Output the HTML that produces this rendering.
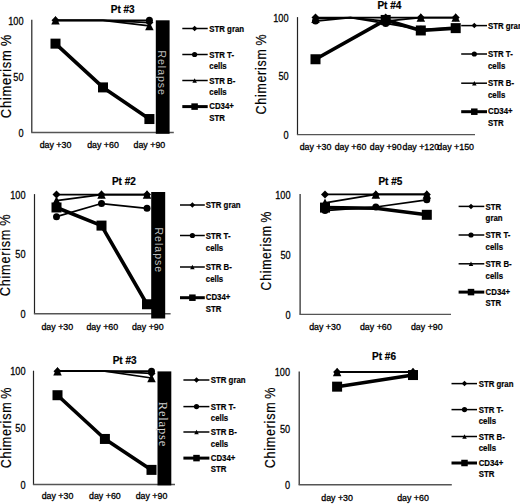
<!DOCTYPE html>
<html><head><meta charset="utf-8"><style>
html,body{margin:0;padding:0;background:#fff;overflow:hidden;width:520px;height:504px;}
svg{display:block;}
text{font-family:"Liberation Sans", sans-serif;}
.tk{stroke:#000;stroke-width:0.25px;}
.xl{stroke:#000;stroke-width:0.3px;}
.lg{stroke:#000;stroke-width:0.2px;}
.yl{stroke:#000;stroke-width:0.2px;}
.ti{stroke:#000;stroke-width:0.2px;}
</style></head><body>
<svg width="520" height="504" viewBox="0 0 520 504">
<rect width="520" height="504" fill="#fff"/>
<line x1="31.8" y1="19.8" x2="31.8" y2="132.5" stroke="#222" stroke-width="1.2"/>
<line x1="31.2" y1="132.5" x2="173.8" y2="132.5" stroke="#555" stroke-width="1.4"/>
<g transform="translate(23.50,24.50) scale(0.92,1)"><text class="tk" x="0.00" y="0.00" font-size="10" text-anchor="end" >100</text></g>
<g transform="translate(23.50,80.60) scale(0.92,1)"><text class="tk" x="0.00" y="0.00" font-size="10" text-anchor="end" >50</text></g>
<g transform="translate(23.50,136.70) scale(0.92,1)"><text class="tk" x="0.00" y="0.00" font-size="10" text-anchor="end" >0</text></g>
<text class="yl" x="0" y="0" font-size="15" text-anchor="middle" transform="translate(10.8,76.11) rotate(-90) scale(0.8637,1)" word-spacing="-1.5" letter-spacing="0.9">Chimerism %</text>
<text class="ti" x="122.70" y="13.20" font-size="10" text-anchor="middle" font-weight="bold" >Pt #3</text>
<g transform="translate(55.50,148.00) scale(1.03,1)"><text class="xl" x="0.00" y="0.00" font-size="8.6" text-anchor="middle" >day +30</text></g>
<g transform="translate(103.00,148.00) scale(1.03,1)"><text class="xl" x="0.00" y="0.00" font-size="8.6" text-anchor="middle" >day +60</text></g>
<g transform="translate(149.40,148.00) scale(1.03,1)"><text class="xl" x="0.00" y="0.00" font-size="8.6" text-anchor="middle" >day +90</text></g>
<rect x="155.8" y="20.3" width="13.799999999999983" height="113.50000000000001" fill="#000"/>
<text x="0" y="0" font-size="10.5"  text-anchor="middle" fill="#bcbcbc" transform="translate(158.20,73.20) rotate(90)" letter-spacing="1.0">Relapse</text>
<path d="M55.50 20.30 L103.00 20.30 L149.40 22.54" fill="none" stroke="#000" stroke-width="1.7" stroke-linejoin="round"/>
<path d="M55.50 16.30L59.50 20.30L55.50 24.30L51.50 20.30Z" fill="#000"/>
<path d="M149.40 18.54L153.40 22.54L149.40 26.54L145.40 22.54Z" fill="#000"/>
<path d="M55.50 20.30 L103.00 20.30 L149.40 20.30" fill="none" stroke="#000" stroke-width="1.7" stroke-linejoin="round"/>
<circle cx="149.40" cy="20.30" r="3.50" fill="#000"/>
<path d="M55.50 20.30 L103.00 20.30 L149.40 25.91" fill="none" stroke="#000" stroke-width="1.7" stroke-linejoin="round"/>
<path d="M55.50 16.05L59.75 24.55L51.25 24.55Z" fill="#000"/>
<path d="M149.40 21.66L153.65 30.16L145.15 30.16Z" fill="#000"/>
<path d="M55.50 43.64 L103.00 87.40 L149.40 119.04" fill="none" stroke="#000" stroke-width="3.6" stroke-linejoin="round"/>
<rect x="50.50" y="38.64" width="10.00" height="10.00" fill="#000"/>
<rect x="98.00" y="82.40" width="10.00" height="10.00" fill="#000"/>
<rect x="144.40" y="114.04" width="10.00" height="10.00" fill="#000"/>
<line x1="182.3" y1="28.50" x2="207.7" y2="28.50" stroke="#000" stroke-width="1.5"/>
<path d="M194.60 25.75L197.35 28.50L194.60 31.25L191.85 28.50Z" fill="#000"/>
<g transform="translate(209.30,31.70) scale(0.87,1)"><text class="lg" x="0.00" y="0.00" font-size="9" font-weight="bold" >STR gran</text></g>
<line x1="182.3" y1="54.50" x2="207.7" y2="54.50" stroke="#000" stroke-width="1.5"/>
<circle cx="194.60" cy="54.50" r="2.60" fill="#000"/>
<g transform="translate(209.30,57.70) scale(0.87,1)"><text class="lg" x="0.00" y="0.00" font-size="9" font-weight="bold" >STR T-</text></g>
<g transform="translate(209.30,69.30) scale(0.87,1)"><text class="lg" x="0.00" y="0.00" font-size="9" font-weight="bold" >cells</text></g>
<line x1="182.3" y1="80.50" x2="207.7" y2="80.50" stroke="#000" stroke-width="1.5"/>
<path d="M194.60 78.25L196.85 82.75L192.35 82.75Z" fill="#000"/>
<g transform="translate(209.30,83.70) scale(0.87,1)"><text class="lg" x="0.00" y="0.00" font-size="9" font-weight="bold" >STR B-</text></g>
<g transform="translate(209.30,95.30) scale(0.87,1)"><text class="lg" x="0.00" y="0.00" font-size="9" font-weight="bold" >cells</text></g>
<line x1="182.3" y1="106.60" x2="207.7" y2="106.60" stroke="#000" stroke-width="3.0"/>
<rect x="191.35" y="103.35" width="6.50" height="6.50" fill="#000"/>
<g transform="translate(209.30,109.30) scale(0.87,1)"><text class="lg" x="0.00" y="0.00" font-size="9" font-weight="bold" >CD34+</text></g>
<g transform="translate(209.30,120.90) scale(0.87,1)"><text class="lg" x="0.00" y="0.00" font-size="9" font-weight="bold" >STR</text></g>
<line x1="297.5" y1="17.1" x2="297.5" y2="134.6" stroke="#222" stroke-width="1.2"/>
<line x1="296.9" y1="134.6" x2="475" y2="134.6" stroke="#555" stroke-width="1.4"/>
<g transform="translate(288.60,21.80) scale(0.92,1)"><text class="tk" x="0.00" y="0.00" font-size="10" text-anchor="end" >100</text></g>
<g transform="translate(288.60,80.30) scale(0.92,1)"><text class="tk" x="0.00" y="0.00" font-size="10" text-anchor="end" >50</text></g>
<g transform="translate(288.60,138.80) scale(0.92,1)"><text class="tk" x="0.00" y="0.00" font-size="10" text-anchor="end" >0</text></g>
<text class="yl" x="0" y="0" font-size="15" text-anchor="middle" transform="translate(265.9,74.13) rotate(-90) scale(0.8266,1)" word-spacing="-1.5" letter-spacing="0.9">Chimerism %</text>
<text class="ti" x="389.40" y="9.30" font-size="10" text-anchor="middle" font-weight="bold" >Pt #4</text>
<g transform="translate(315.50,149.70) scale(1.03,1)"><text class="xl" x="0.00" y="0.00" font-size="8.6" text-anchor="middle" >day +30</text></g>
<g transform="translate(350.50,149.70) scale(1.03,1)"><text class="xl" x="0.00" y="0.00" font-size="8.6" text-anchor="middle" >day +60</text></g>
<g transform="translate(385.70,149.70) scale(1.03,1)"><text class="xl" x="0.00" y="0.00" font-size="8.6" text-anchor="middle" >day +90</text></g>
<g transform="translate(420.80,149.70) scale(1.03,1)"><text class="xl" x="0.00" y="0.00" font-size="8.6" text-anchor="middle" >day +120</text></g>
<g transform="translate(455.70,149.70) scale(1.03,1)"><text class="xl" x="0.00" y="0.00" font-size="8.6" text-anchor="middle" >day +150</text></g>
<path d="M315.50 17.60 L350.50 17.60 L385.70 17.60 L420.80 17.60 L455.70 17.60" fill="none" stroke="#000" stroke-width="1.7" stroke-linejoin="round"/>
<path d="M315.50 13.60L319.50 17.60L315.50 21.60L311.50 17.60Z" fill="#000"/>
<path d="M385.70 13.60L389.70 17.60L385.70 21.60L381.70 17.60Z" fill="#000"/>
<path d="M420.80 13.60L424.80 17.60L420.80 21.60L416.80 17.60Z" fill="#000"/>
<path d="M455.70 13.60L459.70 17.60L455.70 21.60L451.70 17.60Z" fill="#000"/>
<path d="M315.50 21.11 L350.50 17.60 L385.70 23.45 L420.80 29.30 L455.70 28.13" fill="none" stroke="#000" stroke-width="1.7" stroke-linejoin="round"/>
<circle cx="315.50" cy="21.11" r="3.50" fill="#000"/>
<circle cx="385.70" cy="23.45" r="3.50" fill="#000"/>
<circle cx="420.80" cy="29.30" r="3.50" fill="#000"/>
<circle cx="455.70" cy="28.13" r="3.50" fill="#000"/>
<path d="M315.50 18.77 L350.50 17.60 L385.70 21.11 L420.80 17.60 L455.70 17.60" fill="none" stroke="#000" stroke-width="1.7" stroke-linejoin="round"/>
<path d="M315.50 14.52L319.75 23.02L311.25 23.02Z" fill="#000"/>
<path d="M385.70 16.86L389.95 25.36L381.45 25.36Z" fill="#000"/>
<path d="M420.80 13.35L425.05 21.85L416.55 21.85Z" fill="#000"/>
<path d="M455.70 13.35L459.95 21.85L451.45 21.85Z" fill="#000"/>
<path d="M315.50 59.25 L385.70 19.94 L420.80 30.47 L455.70 28.13" fill="none" stroke="#000" stroke-width="3.6" stroke-linejoin="round"/>
<rect x="310.50" y="54.25" width="10.00" height="10.00" fill="#000"/>
<rect x="380.70" y="14.94" width="10.00" height="10.00" fill="#000"/>
<rect x="415.80" y="25.47" width="10.00" height="10.00" fill="#000"/>
<rect x="450.70" y="23.13" width="10.00" height="10.00" fill="#000"/>
<line x1="461.2" y1="25.60" x2="487" y2="25.60" stroke="#000" stroke-width="1.5"/>
<path d="M474.30 22.85L477.05 25.60L474.30 28.35L471.55 25.60Z" fill="#000"/>
<g transform="translate(488.00,28.80) scale(0.87,1)"><text class="lg" x="0.00" y="0.00" font-size="9" font-weight="bold" >STR gran</text></g>
<line x1="461.2" y1="54.00" x2="487" y2="54.00" stroke="#000" stroke-width="1.5"/>
<circle cx="474.30" cy="54.00" r="2.60" fill="#000"/>
<g transform="translate(488.00,57.20) scale(0.87,1)"><text class="lg" x="0.00" y="0.00" font-size="9" font-weight="bold" >STR T-</text></g>
<g transform="translate(488.00,68.80) scale(0.87,1)"><text class="lg" x="0.00" y="0.00" font-size="9" font-weight="bold" >cells</text></g>
<line x1="461.2" y1="83.20" x2="487" y2="83.20" stroke="#000" stroke-width="1.5"/>
<path d="M474.30 80.95L476.55 85.45L472.05 85.45Z" fill="#000"/>
<g transform="translate(488.00,86.40) scale(0.87,1)"><text class="lg" x="0.00" y="0.00" font-size="9" font-weight="bold" >STR B-</text></g>
<g transform="translate(488.00,98.00) scale(0.87,1)"><text class="lg" x="0.00" y="0.00" font-size="9" font-weight="bold" >cells</text></g>
<line x1="461.2" y1="111.70" x2="487" y2="111.70" stroke="#000" stroke-width="3.0"/>
<rect x="471.05" y="108.45" width="6.50" height="6.50" fill="#000"/>
<g transform="translate(488.00,114.40) scale(0.87,1)"><text class="lg" x="0.00" y="0.00" font-size="9" font-weight="bold" >CD34+</text></g>
<g transform="translate(488.00,126.00) scale(0.87,1)"><text class="lg" x="0.00" y="0.00" font-size="9" font-weight="bold" >STR</text></g>
<line x1="34.5" y1="194.1" x2="34.5" y2="313.8" stroke="#222" stroke-width="1.2"/>
<line x1="33.9" y1="313.8" x2="170.6" y2="313.8" stroke="#555" stroke-width="1.4"/>
<g transform="translate(25.50,198.80) scale(0.92,1)"><text class="tk" x="0.00" y="0.00" font-size="10" text-anchor="end" >100</text></g>
<g transform="translate(25.50,258.40) scale(0.92,1)"><text class="tk" x="0.00" y="0.00" font-size="10" text-anchor="end" >50</text></g>
<g transform="translate(25.50,318.00) scale(0.92,1)"><text class="tk" x="0.00" y="0.00" font-size="10" text-anchor="end" >0</text></g>
<text class="yl" x="0" y="0" font-size="15" text-anchor="middle" transform="translate(10.2,255.02) rotate(-90) scale(0.8456,1)" word-spacing="-1.5" letter-spacing="0.9">Chimerism %</text>
<text class="ti" x="123.90" y="185.40" font-size="10" text-anchor="middle" font-weight="bold" >Pt #2</text>
<g transform="translate(57.30,329.60) scale(1.03,1)"><text class="xl" x="0.00" y="0.00" font-size="8.6" text-anchor="middle" >day +30</text></g>
<g transform="translate(102.30,329.60) scale(1.03,1)"><text class="xl" x="0.00" y="0.00" font-size="8.6" text-anchor="middle" >day +60</text></g>
<g transform="translate(147.80,329.60) scale(1.03,1)"><text class="xl" x="0.00" y="0.00" font-size="8.6" text-anchor="middle" >day +90</text></g>
<rect x="151.2" y="192" width="14.0" height="126.5" fill="#000"/>
<text x="0" y="0" font-size="10.5"  text-anchor="middle" fill="#bcbcbc" transform="translate(154.50,250.30) rotate(90)" letter-spacing="1.0">Relapse</text>
<path d="M56.50 194.60 L101.50 194.60 L147.00 194.60" fill="none" stroke="#000" stroke-width="1.7" stroke-linejoin="round"/>
<path d="M56.50 190.60L60.50 194.60L56.50 198.60L52.50 194.60Z" fill="#000"/>
<path d="M101.50 190.60L105.50 194.60L101.50 198.60L97.50 194.60Z" fill="#000"/>
<path d="M147.00 190.60L151.00 194.60L147.00 198.60L143.00 194.60Z" fill="#000"/>
<path d="M56.50 216.65 L101.50 203.54 L147.00 208.31" fill="none" stroke="#000" stroke-width="1.7" stroke-linejoin="round"/>
<circle cx="56.50" cy="216.65" r="3.50" fill="#000"/>
<circle cx="101.50" cy="203.54" r="3.50" fill="#000"/>
<circle cx="147.00" cy="208.31" r="3.50" fill="#000"/>
<path d="M56.50 200.56 L101.50 194.60 L147.00 194.60" fill="none" stroke="#000" stroke-width="1.7" stroke-linejoin="round"/>
<path d="M56.50 196.31L60.75 204.81L52.25 204.81Z" fill="#000"/>
<path d="M101.50 190.35L105.75 198.85L97.25 198.85Z" fill="#000"/>
<path d="M147.00 190.35L151.25 198.85L142.75 198.85Z" fill="#000"/>
<path d="M56.50 207.47 L101.50 225.59 L147.00 304.26" fill="none" stroke="#000" stroke-width="3.6" stroke-linejoin="round"/>
<rect x="51.50" y="202.47" width="10.00" height="10.00" fill="#000"/>
<rect x="96.50" y="220.59" width="10.00" height="10.00" fill="#000"/>
<rect x="142.00" y="299.26" width="10.00" height="10.00" fill="#000"/>
<line x1="180" y1="205.00" x2="204.8" y2="205.00" stroke="#000" stroke-width="1.5"/>
<path d="M192.40 202.25L195.15 205.00L192.40 207.75L189.65 205.00Z" fill="#000"/>
<g transform="translate(205.80,208.20) scale(0.87,1)"><text class="lg" x="0.00" y="0.00" font-size="9" font-weight="bold" >STR gran</text></g>
<line x1="180" y1="235.50" x2="204.8" y2="235.50" stroke="#000" stroke-width="1.5"/>
<circle cx="192.40" cy="235.50" r="2.60" fill="#000"/>
<g transform="translate(205.80,238.70) scale(0.87,1)"><text class="lg" x="0.00" y="0.00" font-size="9" font-weight="bold" >STR T-</text></g>
<g transform="translate(205.80,250.70) scale(0.87,1)"><text class="lg" x="0.00" y="0.00" font-size="9" font-weight="bold" >cells</text></g>
<line x1="180" y1="267.00" x2="204.8" y2="267.00" stroke="#000" stroke-width="1.5"/>
<path d="M192.40 264.75L194.65 269.25L190.15 269.25Z" fill="#000"/>
<g transform="translate(205.80,270.20) scale(0.87,1)"><text class="lg" x="0.00" y="0.00" font-size="9" font-weight="bold" >STR B-</text></g>
<g transform="translate(205.80,282.20) scale(0.87,1)"><text class="lg" x="0.00" y="0.00" font-size="9" font-weight="bold" >cells</text></g>
<line x1="180" y1="297.70" x2="204.8" y2="297.70" stroke="#000" stroke-width="3.0"/>
<rect x="189.15" y="294.45" width="6.50" height="6.50" fill="#000"/>
<g transform="translate(205.80,300.40) scale(0.87,1)"><text class="lg" x="0.00" y="0.00" font-size="9" font-weight="bold" >CD34+</text></g>
<g transform="translate(205.80,312.40) scale(0.87,1)"><text class="lg" x="0.00" y="0.00" font-size="9" font-weight="bold" >STR</text></g>
<line x1="300.1" y1="193.9" x2="300.1" y2="314.4" stroke="#222" stroke-width="1.2"/>
<line x1="299.5" y1="314.4" x2="451" y2="314.4" stroke="#555" stroke-width="1.4"/>
<g transform="translate(290.60,198.60) scale(0.92,1)"><text class="tk" x="0.00" y="0.00" font-size="10" text-anchor="end" >100</text></g>
<g transform="translate(290.60,258.60) scale(0.92,1)"><text class="tk" x="0.00" y="0.00" font-size="10" text-anchor="end" >50</text></g>
<g transform="translate(290.60,318.60) scale(0.92,1)"><text class="tk" x="0.00" y="0.00" font-size="10" text-anchor="end" >0</text></g>
<text class="yl" x="0" y="0" font-size="15" text-anchor="middle" transform="translate(270.5,250.63) rotate(-90) scale(0.8157,1)" word-spacing="-1.5" letter-spacing="0.9">Chimerism %</text>
<text class="ti" x="390.40" y="185.40" font-size="10" text-anchor="middle" font-weight="bold" >Pt #5</text>
<g transform="translate(325.00,329.60) scale(1.03,1)"><text class="xl" x="0.00" y="0.00" font-size="8.6" text-anchor="middle" >day +30</text></g>
<g transform="translate(375.80,329.60) scale(1.03,1)"><text class="xl" x="0.00" y="0.00" font-size="8.6" text-anchor="middle" >day +60</text></g>
<g transform="translate(426.80,329.60) scale(1.03,1)"><text class="xl" x="0.00" y="0.00" font-size="8.6" text-anchor="middle" >day +90</text></g>
<path d="M325.00 194.40 L375.80 194.40 L426.80 194.40" fill="none" stroke="#000" stroke-width="1.7" stroke-linejoin="round"/>
<path d="M325.00 190.40L329.00 194.40L325.00 198.40L321.00 194.40Z" fill="#000"/>
<path d="M375.80 190.40L379.80 194.40L375.80 198.40L371.80 194.40Z" fill="#000"/>
<path d="M426.80 190.40L430.80 194.40L426.80 198.40L422.80 194.40Z" fill="#000"/>
<path d="M325.00 210.60 L375.80 207.00 L426.80 199.80" fill="none" stroke="#000" stroke-width="1.7" stroke-linejoin="round"/>
<circle cx="325.00" cy="210.60" r="3.50" fill="#000"/>
<circle cx="375.80" cy="207.00" r="3.50" fill="#000"/>
<circle cx="426.80" cy="199.80" r="3.50" fill="#000"/>
<path d="M325.00 202.80 L375.80 194.40 L426.80 194.40" fill="none" stroke="#000" stroke-width="1.7" stroke-linejoin="round"/>
<path d="M325.00 198.55L329.25 207.05L320.75 207.05Z" fill="#000"/>
<path d="M375.80 190.15L380.05 198.65L371.55 198.65Z" fill="#000"/>
<path d="M426.80 190.15L431.05 198.65L422.55 198.65Z" fill="#000"/>
<path d="M325.00 207.60 L375.80 208.20 L426.80 214.80" fill="none" stroke="#000" stroke-width="3.6" stroke-linejoin="round"/>
<rect x="320.00" y="202.60" width="10.00" height="10.00" fill="#000"/>
<rect x="421.80" y="209.80" width="10.00" height="10.00" fill="#000"/>
<line x1="458.6" y1="206.40" x2="484.3" y2="206.40" stroke="#000" stroke-width="1.5"/>
<path d="M471.00 203.65L473.75 206.40L471.00 209.15L468.25 206.40Z" fill="#000"/>
<g transform="translate(485.60,209.60) scale(0.87,1)"><text class="lg" x="0.00" y="0.00" font-size="9" font-weight="bold" >STR</text></g>
<g transform="translate(485.60,221.20) scale(0.87,1)"><text class="lg" x="0.00" y="0.00" font-size="9" font-weight="bold" >gran</text></g>
<line x1="458.6" y1="235.00" x2="484.3" y2="235.00" stroke="#000" stroke-width="1.5"/>
<circle cx="471.00" cy="235.00" r="2.60" fill="#000"/>
<g transform="translate(485.60,238.20) scale(0.87,1)"><text class="lg" x="0.00" y="0.00" font-size="9" font-weight="bold" >STR T-</text></g>
<g transform="translate(485.60,249.80) scale(0.87,1)"><text class="lg" x="0.00" y="0.00" font-size="9" font-weight="bold" >cells</text></g>
<line x1="458.6" y1="263.80" x2="484.3" y2="263.80" stroke="#000" stroke-width="1.5"/>
<path d="M471.00 261.55L473.25 266.05L468.75 266.05Z" fill="#000"/>
<g transform="translate(485.60,267.00) scale(0.87,1)"><text class="lg" x="0.00" y="0.00" font-size="9" font-weight="bold" >STR B-</text></g>
<g transform="translate(485.60,278.60) scale(0.87,1)"><text class="lg" x="0.00" y="0.00" font-size="9" font-weight="bold" >cells</text></g>
<line x1="458.6" y1="292.10" x2="484.3" y2="292.10" stroke="#000" stroke-width="3.0"/>
<rect x="467.75" y="288.85" width="6.50" height="6.50" fill="#000"/>
<g transform="translate(485.60,294.80) scale(0.87,1)"><text class="lg" x="0.00" y="0.00" font-size="9" font-weight="bold" >CD34+</text></g>
<g transform="translate(485.60,306.40) scale(0.87,1)"><text class="lg" x="0.00" y="0.00" font-size="9" font-weight="bold" >STR</text></g>
<line x1="33.5" y1="370.7" x2="33.5" y2="484.5" stroke="#222" stroke-width="1.2"/>
<line x1="32.9" y1="484.5" x2="175" y2="484.5" stroke="#555" stroke-width="1.4"/>
<g transform="translate(25.50,375.40) scale(0.92,1)"><text class="tk" x="0.00" y="0.00" font-size="10" text-anchor="end" >100</text></g>
<g transform="translate(25.50,432.05) scale(0.92,1)"><text class="tk" x="0.00" y="0.00" font-size="10" text-anchor="end" >50</text></g>
<g transform="translate(25.50,488.70) scale(0.92,1)"><text class="tk" x="0.00" y="0.00" font-size="10" text-anchor="end" >0</text></g>
<text class="yl" x="0" y="0" font-size="15" text-anchor="middle" transform="translate(11.2,427.52) rotate(-90) scale(0.8347,1)" word-spacing="-1.5" letter-spacing="0.9">Chimerism %</text>
<text class="ti" x="124.60" y="364.30" font-size="10" text-anchor="middle" font-weight="bold" >Pt #3</text>
<g transform="translate(57.50,498.80) scale(1.03,1)"><text class="xl" x="0.00" y="0.00" font-size="8.6" text-anchor="middle" >day +30</text></g>
<g transform="translate(104.90,498.80) scale(1.03,1)"><text class="xl" x="0.00" y="0.00" font-size="8.6" text-anchor="middle" >day +60</text></g>
<g transform="translate(151.50,498.80) scale(1.03,1)"><text class="xl" x="0.00" y="0.00" font-size="8.6" text-anchor="middle" >day +90</text></g>
<rect x="157.5" y="371.4" width="13.800000000000011" height="114.0" fill="#000"/>
<text x="0" y="0" font-size="12.5" style="font-family:&quot;Liberation Serif&quot;,serif" text-anchor="middle" fill="#d4d4d4" transform="translate(159.40,424.40) rotate(90)" letter-spacing="0.8">Relapse</text>
<path d="M57.50 371.20 L104.90 371.20 L151.50 373.47" fill="none" stroke="#000" stroke-width="1.7" stroke-linejoin="round"/>
<path d="M57.50 367.20L61.50 371.20L57.50 375.20L53.50 371.20Z" fill="#000"/>
<path d="M151.50 369.47L155.50 373.47L151.50 377.47L147.50 373.47Z" fill="#000"/>
<path d="M57.50 371.20 L104.90 371.20 L151.50 371.20" fill="none" stroke="#000" stroke-width="1.7" stroke-linejoin="round"/>
<circle cx="151.50" cy="371.20" r="3.50" fill="#000"/>
<path d="M57.50 371.20 L104.90 371.20 L151.50 378.00" fill="none" stroke="#000" stroke-width="1.7" stroke-linejoin="round"/>
<path d="M57.50 366.95L61.75 375.45L53.25 375.45Z" fill="#000"/>
<path d="M151.50 373.75L155.75 382.25L147.25 382.25Z" fill="#000"/>
<path d="M57.50 395.22 L104.90 438.95 L151.50 469.88" fill="none" stroke="#000" stroke-width="3.6" stroke-linejoin="round"/>
<rect x="52.50" y="390.22" width="10.00" height="10.00" fill="#000"/>
<rect x="99.90" y="433.95" width="10.00" height="10.00" fill="#000"/>
<rect x="146.50" y="464.88" width="10.00" height="10.00" fill="#000"/>
<line x1="183.4" y1="380.00" x2="209.4" y2="380.00" stroke="#000" stroke-width="1.5"/>
<path d="M196.50 377.25L199.25 380.00L196.50 382.75L193.75 380.00Z" fill="#000"/>
<g transform="translate(210.80,383.20) scale(0.87,1)"><text class="lg" x="0.00" y="0.00" font-size="9" font-weight="bold" >STR gran</text></g>
<line x1="183.4" y1="406.60" x2="209.4" y2="406.60" stroke="#000" stroke-width="1.5"/>
<circle cx="196.50" cy="406.60" r="2.60" fill="#000"/>
<g transform="translate(210.80,409.80) scale(0.87,1)"><text class="lg" x="0.00" y="0.00" font-size="9" font-weight="bold" >STR T-</text></g>
<g transform="translate(210.80,421.40) scale(0.87,1)"><text class="lg" x="0.00" y="0.00" font-size="9" font-weight="bold" >cells</text></g>
<line x1="183.4" y1="432.00" x2="209.4" y2="432.00" stroke="#000" stroke-width="1.5"/>
<path d="M196.50 429.75L198.75 434.25L194.25 434.25Z" fill="#000"/>
<g transform="translate(210.80,435.20) scale(0.87,1)"><text class="lg" x="0.00" y="0.00" font-size="9" font-weight="bold" >STR B-</text></g>
<g transform="translate(210.80,446.80) scale(0.87,1)"><text class="lg" x="0.00" y="0.00" font-size="9" font-weight="bold" >cells</text></g>
<line x1="183.4" y1="458.10" x2="209.4" y2="458.10" stroke="#000" stroke-width="3.0"/>
<rect x="193.25" y="454.85" width="6.50" height="6.50" fill="#000"/>
<g transform="translate(210.80,460.80) scale(0.87,1)"><text class="lg" x="0.00" y="0.00" font-size="9" font-weight="bold" >CD34+</text></g>
<g transform="translate(210.80,472.40) scale(0.87,1)"><text class="lg" x="0.00" y="0.00" font-size="9" font-weight="bold" >STR</text></g>
<line x1="299.2" y1="371.5" x2="299.2" y2="484.8" stroke="#222" stroke-width="1.2"/>
<line x1="298.59999999999997" y1="484.8" x2="451.8" y2="484.8" stroke="#555" stroke-width="1.4"/>
<g transform="translate(290.10,376.20) scale(0.92,1)"><text class="tk" x="0.00" y="0.00" font-size="10" text-anchor="end" >100</text></g>
<g transform="translate(290.10,432.60) scale(0.92,1)"><text class="tk" x="0.00" y="0.00" font-size="10" text-anchor="end" >50</text></g>
<g transform="translate(290.10,489.00) scale(0.92,1)"><text class="tk" x="0.00" y="0.00" font-size="10" text-anchor="end" >0</text></g>
<text class="yl" x="0" y="0" font-size="15" text-anchor="middle" transform="translate(275.3,427.52) rotate(-90) scale(0.8347,1)" word-spacing="-1.5" letter-spacing="0.9">Chimerism %</text>
<text class="ti" x="384.00" y="359.50" font-size="10" text-anchor="middle" font-weight="bold" >Pt #6</text>
<g transform="translate(337.10,500.80) scale(1.03,1)"><text class="xl" x="0.00" y="0.00" font-size="8.6" text-anchor="middle" >day +30</text></g>
<g transform="translate(413.00,500.80) scale(1.03,1)"><text class="xl" x="0.00" y="0.00" font-size="8.6" text-anchor="middle" >day +60</text></g>
<path d="M337.10 372.00 L413.00 372.00" fill="none" stroke="#000" stroke-width="1.7" stroke-linejoin="round"/>
<path d="M337.10 368.00L341.10 372.00L337.10 376.00L333.10 372.00Z" fill="#000"/>
<path d="M413.00 368.00L417.00 372.00L413.00 376.00L409.00 372.00Z" fill="#000"/>
<path d="M337.10 372.00 L413.00 372.00" fill="none" stroke="#000" stroke-width="1.7" stroke-linejoin="round"/>
<path d="M337.10 372.00 L413.00 372.00" fill="none" stroke="#000" stroke-width="1.7" stroke-linejoin="round"/>
<path d="M337.10 367.75L341.35 376.25L332.85 376.25Z" fill="#000"/>
<path d="M413.00 367.75L417.25 376.25L408.75 376.25Z" fill="#000"/>
<path d="M337.10 386.66 L413.00 375.05" fill="none" stroke="#000" stroke-width="3.6" stroke-linejoin="round"/>
<rect x="332.10" y="381.66" width="10.00" height="10.00" fill="#000"/>
<rect x="408.00" y="370.05" width="10.00" height="10.00" fill="#000"/>
<line x1="451.5" y1="383.60" x2="477.0" y2="383.60" stroke="#000" stroke-width="1.5"/>
<path d="M464.50 380.85L467.25 383.60L464.50 386.35L461.75 383.60Z" fill="#000"/>
<g transform="translate(478.70,386.80) scale(0.87,1)"><text class="lg" x="0.00" y="0.00" font-size="9" font-weight="bold" >STR gran</text></g>
<line x1="451.5" y1="409.60" x2="477.0" y2="409.60" stroke="#000" stroke-width="1.5"/>
<circle cx="464.50" cy="409.60" r="2.60" fill="#000"/>
<g transform="translate(478.70,412.80) scale(0.87,1)"><text class="lg" x="0.00" y="0.00" font-size="9" font-weight="bold" >STR T-</text></g>
<g transform="translate(478.70,424.40) scale(0.87,1)"><text class="lg" x="0.00" y="0.00" font-size="9" font-weight="bold" >cells</text></g>
<line x1="451.5" y1="436.50" x2="477.0" y2="436.50" stroke="#000" stroke-width="1.5"/>
<path d="M464.50 434.25L466.75 438.75L462.25 438.75Z" fill="#000"/>
<g transform="translate(478.70,439.70) scale(0.87,1)"><text class="lg" x="0.00" y="0.00" font-size="9" font-weight="bold" >STR B-</text></g>
<g transform="translate(478.70,451.30) scale(0.87,1)"><text class="lg" x="0.00" y="0.00" font-size="9" font-weight="bold" >cells</text></g>
<line x1="451.5" y1="463.00" x2="477.0" y2="463.00" stroke="#000" stroke-width="3.0"/>
<rect x="461.25" y="459.75" width="6.50" height="6.50" fill="#000"/>
<g transform="translate(478.70,465.70) scale(0.87,1)"><text class="lg" x="0.00" y="0.00" font-size="9" font-weight="bold" >CD34+</text></g>
<g transform="translate(478.70,477.30) scale(0.87,1)"><text class="lg" x="0.00" y="0.00" font-size="9" font-weight="bold" >STR</text></g>
</svg>
</body></html>
